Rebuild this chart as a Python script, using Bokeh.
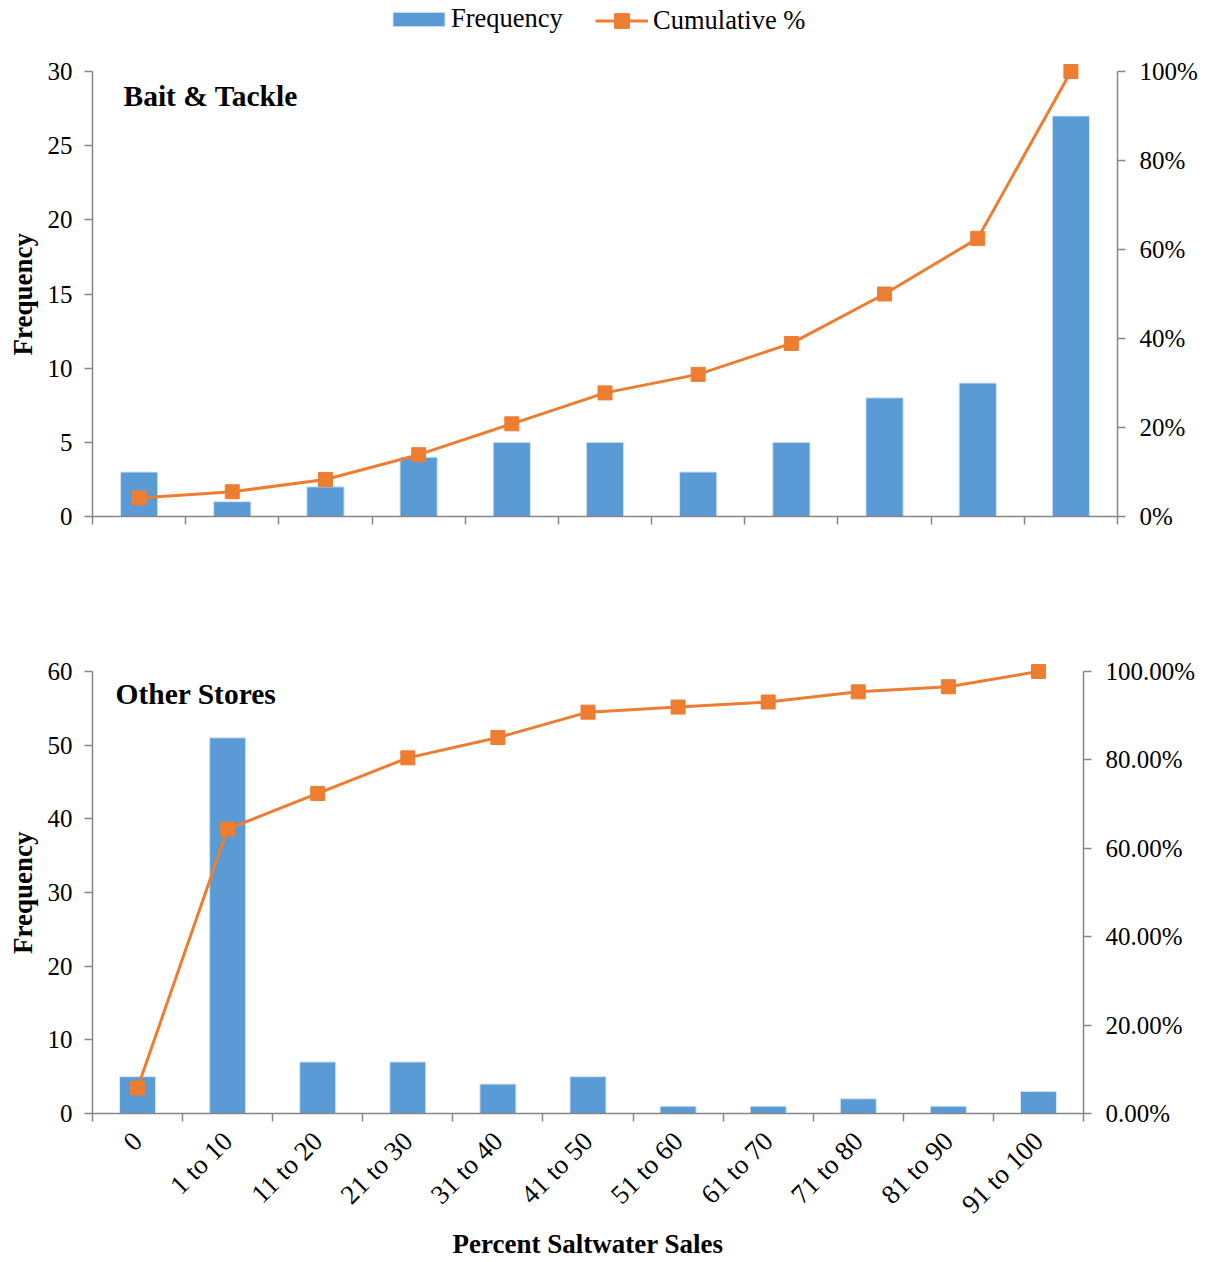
import math

from bokeh.embed import file_html
from bokeh.models import (ColumnDataSource, CustomJSTickFormatter, FixedTicker,
                          Label, Legend, LegendItem, LinearAxis, Range1d, Title)
from bokeh.plotting import figure
from bokeh.resources import INLINE

# Percent-of-sales bins shared by both store groups
categories = ["0", "1 to 10", "11 to 20", "21 to 30", "31 to 40", "41 to 50",
              "51 to 60", "61 to 70", "71 to 80", "81 to 90", "91 to 100"]

# Bait & tackle shops
bait_frequency = [3, 1, 2, 4, 5, 5, 3, 5, 8, 9, 27]
bait_cumulative_pct = [4.17, 5.56, 8.33, 13.89, 20.83, 27.78, 31.94, 38.89, 50.00, 62.50, 100.00]

# All other stores
other_frequency = [5, 51, 7, 7, 4, 5, 1, 1, 2, 1, 3]
other_cumulative_pct = [5.75, 64.37, 72.41, 80.46, 85.06, 90.80, 91.95, 93.10, 95.40, 96.55, 100.00]

bait_freq_ticks = [0, 5, 10, 15, 20, 25, 30]
other_freq_ticks = [0, 10, 20, 30, 40, 50, 60]
pct_ticks = [0, 20, 40, 60, 80, 100]

FONT = "Liberation Serif"
BAR_COLOR = "#5B9BD5"
LINE_COLOR = "#ED7D31"
AXIS_COLOR = "#868686"
TICK_FONT_SIZE = "25px"
TOP_PAD = 71  # headroom above the axes, in pixels
Y_TITLE_LEN = 123  # approximate drawn length of the bold "Frequency" title


def style_axis(axis):
    axis.axis_line_color = AXIS_COLOR
    axis.axis_line_width = 1.5
    axis.major_tick_line_color = AXIS_COLOR
    axis.major_tick_line_width = 1.5
    axis.major_tick_in = 0
    axis.major_tick_out = 8
    axis.minor_tick_line_color = None
    axis.major_label_text_font = FONT
    axis.major_label_text_font_size = TICK_FONT_SIZE
    axis.major_label_text_color = "#000000"
    axis.axis_label_text_font = FONT
    axis.axis_label_text_font_style = "bold"
    axis.axis_label_text_font_size = "27px"
    axis.axis_label_text_color = "#000000"


def make_panel(freq, cum_pct, freq_ticks, pct_decimals, title, title_x, title_y,
               height, axes_height, border_right, border_bottom, show_categories):
    n = len(categories)
    # each bin occupies one unit slot; marks sit at the slot centres
    slot_centre = [i + 0.5 for i in range(n)]
    src = ColumnDataSource(dict(x=slot_centre, cat=categories, freq=freq, cum=cum_pct))

    # the frame reaches up to the top edge; the axes stop TOP_PAD pixels lower
    stretch = (axes_height + TOP_PAD) / axes_height
    freq_max = freq_ticks[-1]
    pct_max = pct_ticks[-1]

    p = figure(width=1211, height=height, x_range=Range1d(0, n),
               y_range=Range1d(0, freq_max * stretch),
               output_backend="svg", toolbar_location=None,
               x_axis_location=None, y_axis_location=None,
               min_border_left=92, min_border_right=border_right,
               min_border_top=0, min_border_bottom=border_bottom)
    p.extra_y_ranges = {"pct": Range1d(0, pct_max * stretch)}
    p.xgrid.grid_line_color = None
    p.ygrid.grid_line_color = None
    p.outline_line_color = None
    p.background_fill_color = "white"
    p.border_fill_color = "white"

    bars = p.vbar(x="x", top="freq", width=0.4, source=src, fill_color=BAR_COLOR,
                  line_color="#D6E6F5", line_width=1)
    line = p.line(x="x", y="cum", source=src, y_range_name="pct",
                  line_color=LINE_COLOR, line_width=3)
    marks = p.scatter(x="x", y="cum", source=src, y_range_name="pct",
                      marker="square", size=14, fill_color=LINE_COLOR,
                      line_color=LINE_COLOR)

    left = LinearAxis(ticker=FixedTicker(ticks=freq_ticks), bounds=(0, freq_max))
    style_axis(left)
    left.major_label_standoff = 12
    p.add_layout(left, "left")

    # vertical axis title, centred on the bounded axis rather than the frame
    p.add_layout(Title(text="Frequency", align="left", vertical_align="middle",
                       offset=(axes_height - Y_TITLE_LEN) / 2, standoff=12,
                       text_font=FONT, text_font_style="bold",
                       text_font_size="27px", text_color="#000000"), "left")

    right = LinearAxis(y_range_name="pct", ticker=FixedTicker(ticks=pct_ticks),
                       bounds=(0, pct_max),
                       formatter=CustomJSTickFormatter(
                           args=dict(d=pct_decimals),
                           code="return tick.toFixed(d) + '%';"))
    style_axis(right)
    right.major_label_standoff = 14
    p.add_layout(right, "right")

    # category labels at slot centres, tick marks at slot boundaries
    bounds = list(range(n + 1))
    bottom = LinearAxis(ticker=FixedTicker(ticks=slot_centre, minor_ticks=bounds),
                        formatter=CustomJSTickFormatter(
                            args=dict(cats=categories, show=show_categories),
                            code="return show ? cats[Math.floor(tick)] : '';"))
    style_axis(bottom)
    bottom.major_tick_line_color = None
    bottom.major_tick_out = 0
    bottom.minor_tick_line_color = AXIS_COLOR
    bottom.minor_tick_line_width = 1.5
    bottom.minor_tick_in = 0
    bottom.minor_tick_out = 8
    if show_categories:
        bottom.major_label_orientation = math.pi / 4
        bottom.major_label_text_font_size = "27px"
        bottom.major_label_standoff = 15
        bottom.axis_label = "Percent Saltwater Sales"
        bottom.axis_label_standoff = -4
    p.add_layout(bottom, "below")

    p.add_layout(Label(x=title_x, y=axes_height - title_y, x_units="screen",
                       y_units="screen", text=title, text_font=FONT,
                       text_font_style="bold", text_font_size="29.5px",
                       text_baseline="middle", text_color="#000000"))
    return p, bars, line, marks


top, t_bars, t_line, t_marks = make_panel(
    bait_frequency, bait_cumulative_pct, bait_freq_ticks, 0, "Bait & Tackle", 31, 24,
    height=600, axes_height=445, border_right=94, border_bottom=84,
    show_categories=False)

bottom, _, _, _ = make_panel(
    other_frequency, other_cumulative_pct, other_freq_ticks, 2, "Other Stores", 23, 22,
    height=662, axes_height=442, border_right=128, border_bottom=149,
    show_categories=True)

# two legend boxes so the bar patch and the line marker keep their own sizes
legend_style = dict(orientation="horizontal", padding=0, margin=0,
                    border_line_color=None, background_fill_alpha=0,
                    label_text_font=FONT, label_text_font_size="26.5px",
                    label_text_color="#000000", label_height=26)
bar_legend = Legend(items=[LegendItem(label="Frequency", renderers=[t_bars])],
                    location=(294, 482), glyph_width=65, glyph_height=18,
                    label_standoff=0, **legend_style)
line_legend = Legend(items=[LegendItem(label="Cumulative %", renderers=[t_line, t_marks])],
                     location=(503, 477), glyph_width=53, glyph_height=37,
                     label_standoff=5, **legend_style)
top.add_layout(bar_legend, "center")
top.add_layout(line_legend, "center")

with open("out.html", "w") as f:
    f.write(file_html([top, bottom], INLINE))
